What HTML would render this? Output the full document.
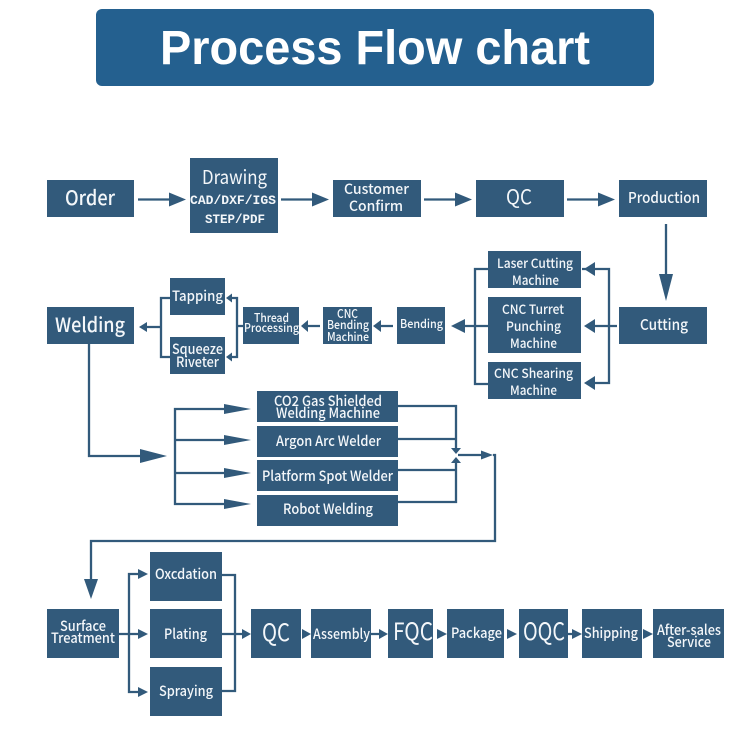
<!DOCTYPE html>
<html>
<head>
<meta charset="utf-8">
<title>Process Flow chart</title>
<style>
html,body{margin:0;padding:0;background:#fff;}
svg{display:block;}
.b rect{fill:#325a7b;}
.t text{fill:#f4f7fa;font-family:"Noto Sans CJK SC","Liberation Sans",sans-serif;font-weight:500;}
.l path{fill:none;stroke:#325a7b;stroke-width:2.3;}
.a polygon{fill:#325a7b;}
</style>
</head>
<body>
<svg width="750" height="739" viewBox="0 0 750 739" xmlns="http://www.w3.org/2000/svg">
<rect x="96" y="9" width="558" height="77" rx="6" fill="#24608f"/>
<text x="160" y="64" textLength="430" lengthAdjust="spacingAndGlyphs" font-family="'Liberation Sans',sans-serif" font-weight="700" font-size="48" fill="#fff">Process Flow chart</text>

<g class="b">
<rect x="47" y="180" width="87" height="37"/>
<rect x="190" y="158" width="88" height="75"/>
<rect x="333" y="180" width="88" height="37"/>
<rect x="476" y="180" width="88" height="37"/>
<rect x="619" y="180" width="88" height="37"/>
<rect x="619" y="307" width="88" height="37"/>
<rect x="47" y="307" width="87" height="37"/>
<rect x="170" y="278" width="55" height="37"/>
<rect x="170" y="337" width="55" height="37"/>
<rect x="243" y="307" width="56" height="37"/>
<rect x="323" y="307" width="49" height="37"/>
<rect x="397" y="307" width="48" height="37"/>
<rect x="488" y="251" width="93" height="37"/>
<rect x="488" y="297" width="93" height="56"/>
<rect x="488" y="362" width="93" height="37"/>
<rect x="257" y="391" width="141" height="31"/>
<rect x="257" y="426" width="141" height="31"/>
<rect x="257" y="460" width="141" height="31"/>
<rect x="257" y="495" width="141" height="31"/>
<rect x="47" y="609" width="72" height="49"/>
<rect x="150" y="552" width="72" height="49"/>
<rect x="150" y="609" width="72" height="49"/>
<rect x="150" y="667" width="72" height="49"/>
<rect x="251" y="609" width="50" height="49"/>
<rect x="311" y="609" width="60" height="49"/>
<rect x="388" y="609" width="45" height="49"/>
<rect x="447" y="609" width="57" height="49"/>
<rect x="519" y="609" width="49" height="49"/>
<rect x="582" y="609" width="60" height="49"/>
<rect x="653" y="609" width="71" height="49"/>
</g>

<g class="l">
<path d="M138 199.5H170M281 199.5H313M424 199.5H456M567 199.5H599" stroke-width="3"/>
<path d="M666 224V275" stroke-width="3"/>
<path d="M617 326H594M582 269H609V383H594"/>
<path d="M488 269H475V384H488M488 326H464"/>
<path d="M393 326H380M320 326H307"/>
<path d="M243 326H237M231 298H237V357H231"/>
<path d="M170 298H161V357H170M161 327H146"/>
<path d="M89 344V456H141"/>
<path d="M224 409H175V504H224M175 440H224M175 473H224"/>
<path d="M398 406H456V450M398 439H456M398 470H456M398 502H456V462M458 455H482"/>
<path d="M493 455H495V541H91V580"/>
<path d="M119 634H139M138 574H129V692H138"/>
<path d="M222 575H235V691H222M222 634H243"/>
<path d="M371 634H380M568 634H573"/>
</g>

<g class="a">
<polygon points="169,192.5 186,199.5 169,206.5"/>
<polygon points="312,192.5 329,199.5 312,206.5"/>
<polygon points="455,192.5 472,199.5 455,206.5"/>
<polygon points="598,192.5 615,199.5 598,206.5"/>
<polygon points="659,274 673,274 666,301"/>
<polygon points="595,262 584,269 595,276"/>
<polygon points="595,319 584,326 595,333"/>
<polygon points="595,376 584,383 595,390"/>
<polygon points="465,319 451,326 465,333"/>
<polygon points="381,320 373,326 381,332"/>
<polygon points="308,320 301,326 308,332"/>
<polygon points="232,293.5 226,298 232,302.5"/>
<polygon points="232,352.5 226,357 232,361.5"/>
<polygon points="147,322 139,327 147,332"/>
<polygon points="140,449 167,456 140,463"/>
<polygon points="224,404 251,409 224,414"/>
<polygon points="224,435 251,440 224,445"/>
<polygon points="224,468 251,473 224,478"/>
<polygon points="224,499 251,504 224,509"/>
<polygon points="451,448 461,448 456,454"/>
<polygon points="451,463 461,463 456,457"/>
<polygon points="481,450.5 493,455 481,459.5"/>
<polygon points="84,579 98,579 91,599"/>
<polygon points="138,569 148,574 138,579"/>
<polygon points="138,629 148,634 138,639"/>
<polygon points="138,687 148,692 138,697"/>
<polygon points="242,629 251,634 242,639"/>
<polygon points="302,629 311,634 302,639"/>
<polygon points="379,629 388,634 379,639"/>
<polygon points="437,629 447,634 437,639"/>
<polygon points="507,629 517,634 507,639"/>
<polygon points="572,629 582,634 572,639"/>
<polygon points="643,629 653,634 643,639"/>
</g>

<g class="t">
<text x="65" y="205" font-size="20" textLength="50" lengthAdjust="spacingAndGlyphs">Order</text>
<text x="202" y="184" font-size="19" style="font-weight:400" textLength="65" lengthAdjust="spacingAndGlyphs">Drawing</text>
<text x="190" y="204" font-size="13" textLength="86" lengthAdjust="spacingAndGlyphs" style="font-family:'Liberation Mono',monospace;font-weight:700">CAD/DXF/IGS</text>
<text x="205" y="223" font-size="13" textLength="60" lengthAdjust="spacingAndGlyphs" style="font-family:'Liberation Mono',monospace;font-weight:700">STEP/PDF</text>
<text x="344" y="194" font-size="14" textLength="65" lengthAdjust="spacingAndGlyphs">Customer</text>
<text x="349" y="211" font-size="14" textLength="54" lengthAdjust="spacingAndGlyphs">Confirm</text>
<text x="506" y="204" font-size="20" style="font-weight:400" textLength="26" lengthAdjust="spacingAndGlyphs">QC</text>
<text x="628" y="203" font-size="15" textLength="72" lengthAdjust="spacingAndGlyphs">Production</text>
<text x="640" y="330" font-size="15" textLength="48" lengthAdjust="spacingAndGlyphs">Cutting</text>
<text x="55" y="332" font-size="20" textLength="70" lengthAdjust="spacingAndGlyphs">Welding</text>
<text x="172" y="301" font-size="14" textLength="51" lengthAdjust="spacingAndGlyphs">Tapping</text>
<text x="172" y="354" font-size="14" textLength="51" lengthAdjust="spacingAndGlyphs">Squeeze</text>
<text x="176" y="367" font-size="14" textLength="43" lengthAdjust="spacingAndGlyphs">Riveter</text>
<text x="254" y="322" font-size="12" textLength="35" lengthAdjust="spacingAndGlyphs">Thread</text>
<text x="244" y="332" font-size="12" textLength="55" lengthAdjust="spacingAndGlyphs">Processing</text>
<text x="337" y="318" font-size="12" textLength="21" lengthAdjust="spacingAndGlyphs">CNC</text>
<text x="327" y="329" font-size="12" textLength="42" lengthAdjust="spacingAndGlyphs">Bending</text>
<text x="327" y="341" font-size="12" textLength="42" lengthAdjust="spacingAndGlyphs">Machine</text>
<text x="400" y="328" font-size="12" textLength="43" lengthAdjust="spacingAndGlyphs">Bending</text>
<text x="497" y="268" font-size="13" textLength="76" lengthAdjust="spacingAndGlyphs">Laser Cutting</text>
<text x="512" y="285" font-size="13" textLength="47" lengthAdjust="spacingAndGlyphs">Machine</text>
<text x="502" y="314" font-size="13" textLength="62" lengthAdjust="spacingAndGlyphs">CNC Turret</text>
<text x="506" y="331" font-size="13" textLength="55" lengthAdjust="spacingAndGlyphs">Punching</text>
<text x="510" y="348" font-size="13" textLength="47" lengthAdjust="spacingAndGlyphs">Machine</text>
<text x="494" y="378" font-size="13" textLength="79" lengthAdjust="spacingAndGlyphs">CNC Shearing</text>
<text x="510" y="395" font-size="13" textLength="47" lengthAdjust="spacingAndGlyphs">Machine</text>
<text x="274" y="406" font-size="14" textLength="108" lengthAdjust="spacingAndGlyphs">CO2 Gas Shielded</text>
<text x="276" y="418" font-size="14" textLength="104" lengthAdjust="spacingAndGlyphs">Welding Machine</text>
<text x="276" y="446" font-size="14" textLength="105" lengthAdjust="spacingAndGlyphs">Argon Arc Welder</text>
<text x="262" y="481" font-size="14" textLength="131" lengthAdjust="spacingAndGlyphs">Platform Spot Welder</text>
<text x="283" y="514" font-size="14" textLength="90" lengthAdjust="spacingAndGlyphs">Robot Welding</text>
<text x="60" y="631" font-size="14" textLength="46" lengthAdjust="spacingAndGlyphs">Surface</text>
<text x="51" y="643" font-size="14" textLength="64" lengthAdjust="spacingAndGlyphs">Treatment</text>
<text x="155" y="579" font-size="14" textLength="62" lengthAdjust="spacingAndGlyphs">Oxcdation</text>
<text x="164" y="639" font-size="14" textLength="43" lengthAdjust="spacingAndGlyphs">Plating</text>
<text x="159" y="696" font-size="14" textLength="54" lengthAdjust="spacingAndGlyphs">Spraying</text>
<text x="262" y="641" font-size="24" style="font-weight:400" textLength="28" lengthAdjust="spacingAndGlyphs">QC</text>
<text x="313" y="639" font-size="14" textLength="57" lengthAdjust="spacingAndGlyphs">Assembly</text>
<text x="393" y="640" font-size="24" style="font-weight:400" textLength="40" lengthAdjust="spacingAndGlyphs">FQC</text>
<text x="451" y="638" font-size="14" textLength="51" lengthAdjust="spacingAndGlyphs">Package</text>
<text x="523" y="640" font-size="24" style="font-weight:400" textLength="42" lengthAdjust="spacingAndGlyphs">OQC</text>
<text x="584" y="638" font-size="14" textLength="54" lengthAdjust="spacingAndGlyphs">Shipping</text>
<text x="657" y="635" font-size="14" textLength="64" lengthAdjust="spacingAndGlyphs">After-sales</text>
<text x="667" y="647" font-size="14" textLength="44" lengthAdjust="spacingAndGlyphs">Service</text>
</g>
</svg>
</body>
</html>
